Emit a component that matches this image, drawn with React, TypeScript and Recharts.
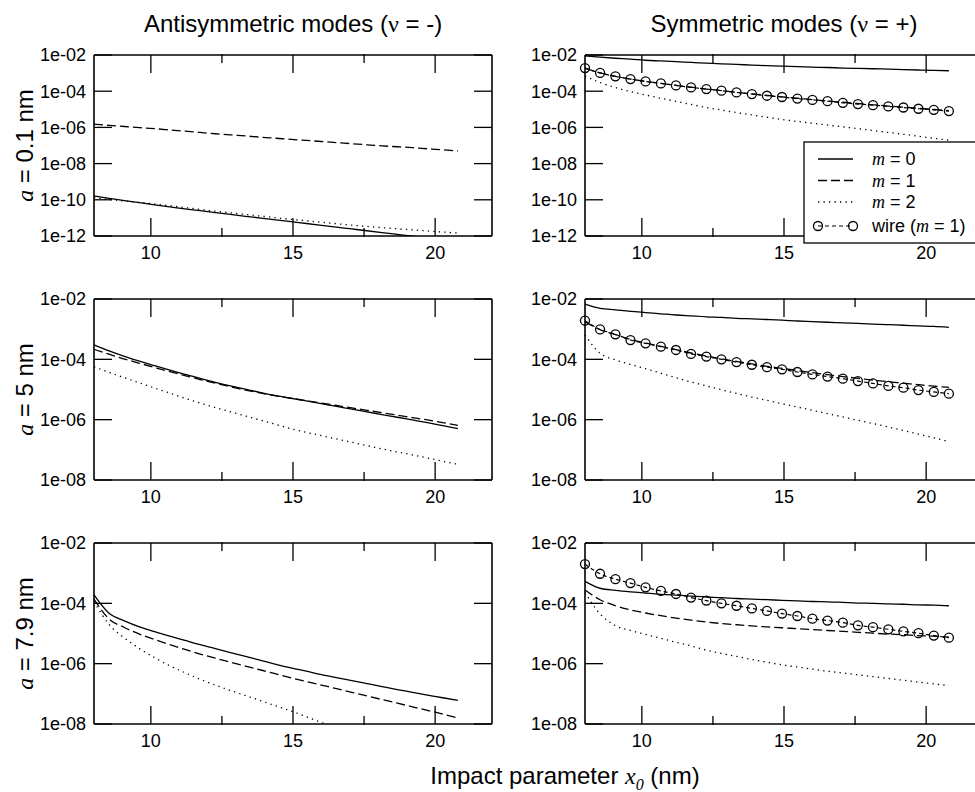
import React from "react";
import { LineChart, Line, XAxis, YAxis } from "recharts";

// impact parameter x0 (nm)
const xs = [8.0, 8.53, 9.07, 9.6, 10.13, 10.67, 11.2, 11.73, 12.27, 12.8, 13.33, 13.87, 14.4, 14.93, 15.47, 16.0, 16.53, 17.07, 17.6, 18.13, 18.67, 19.2, 19.73, 20.27, 20.8];
const xMajor = [10, 15, 20];
const xMinor = [12.5, 17.5];
const yTicksWide = [-12, -10, -8, -6, -4, -2];
const yTicksNarrow = [-8, -6, -4, -2];

// all series are log10 of the plotted value

// a = 0.1 nm, antisymmetric
const anti01M0 = [-9.79, -9.92, -10.04, -10.16, -10.28, -10.39, -10.5, -10.6, -10.71, -10.81, -10.91, -11.01, -11.11, -11.21, -11.31, -11.41, -11.51, -11.61, -11.71, -11.81, -11.91, -12.01, -12.1, -12.2, -12.3];
const anti01M1 = [-5.82, -5.89, -5.95, -6.01, -6.07, -6.14, -6.21, -6.28, -6.35, -6.41, -6.47, -6.54, -6.6, -6.66, -6.72, -6.78, -6.84, -6.9, -6.96, -7.02, -7.07, -7.12, -7.18, -7.24, -7.3];
const anti01M2 = [-9.88, -9.98, -10.07, -10.15, -10.23, -10.33, -10.43, -10.53, -10.63, -10.72, -10.81, -10.9, -10.99, -11.08, -11.16, -11.24, -11.32, -11.4, -11.47, -11.54, -11.6, -11.66, -11.72, -11.78, -11.84];

// a = 0.1 nm, symmetric
const sym01M0 = [-2.05, -2.12, -2.18, -2.23, -2.29, -2.33, -2.37, -2.41, -2.45, -2.49, -2.52, -2.56, -2.59, -2.62, -2.64, -2.67, -2.69, -2.72, -2.74, -2.76, -2.78, -2.81, -2.83, -2.85, -2.87];
const sym01M1 = [-2.72, -2.99, -3.18, -3.33, -3.46, -3.57, -3.68, -3.78, -3.88, -3.97, -4.06, -4.15, -4.23, -4.31, -4.39, -4.46, -4.54, -4.61, -4.68, -4.75, -4.82, -4.88, -4.95, -5.01, -5.07];
const sym01M2 = [-3.16, -3.52, -3.8, -4.02, -4.21, -4.39, -4.56, -4.73, -4.9, -5.04, -5.18, -5.31, -5.44, -5.56, -5.67, -5.77, -5.87, -5.97, -6.07, -6.17, -6.28, -6.38, -6.49, -6.6, -6.71];
const sym01Wire = [-2.72, -2.99, -3.18, -3.33, -3.46, -3.57, -3.68, -3.79, -3.88, -3.97, -4.07, -4.16, -4.25, -4.32, -4.41, -4.48, -4.55, -4.64, -4.71, -4.77, -4.84, -4.9, -4.97, -5.03, -5.1];

// a = 5 nm, antisymmetric
const anti5M0 = [-3.52, -3.72, -3.9, -4.06, -4.21, -4.36, -4.5, -4.63, -4.76, -4.88, -4.99, -5.1, -5.2, -5.29, -5.38, -5.47, -5.56, -5.65, -5.74, -5.83, -5.92, -6.01, -6.1, -6.2, -6.3];
const anti5M1 = [-3.67, -3.83, -3.99, -4.13, -4.27, -4.41, -4.54, -4.67, -4.79, -4.91, -5.02, -5.12, -5.21, -5.29, -5.37, -5.45, -5.53, -5.61, -5.69, -5.77, -5.85, -5.93, -6.01, -6.1, -6.19];
const anti5M2 = [-4.25, -4.43, -4.61, -4.78, -4.95, -5.12, -5.29, -5.45, -5.6, -5.74, -5.88, -6.02, -6.16, -6.3, -6.42, -6.53, -6.64, -6.75, -6.86, -6.97, -7.07, -7.17, -7.27, -7.38, -7.48];

// a = 5 nm, symmetric
const sym5M0 = [-2.17, -2.31, -2.36, -2.41, -2.45, -2.49, -2.53, -2.56, -2.59, -2.61, -2.64, -2.66, -2.68, -2.7, -2.73, -2.75, -2.77, -2.79, -2.81, -2.83, -2.85, -2.87, -2.89, -2.91, -2.94];
const sym5M1 = [-2.75, -3.02, -3.18, -3.34, -3.46, -3.57, -3.68, -3.79, -3.89, -3.98, -4.07, -4.15, -4.23, -4.3, -4.37, -4.44, -4.51, -4.57, -4.63, -4.69, -4.74, -4.79, -4.84, -4.89, -4.93];
const sym5M2 = [-3.19, -3.8, -4.02, -4.17, -4.31, -4.46, -4.61, -4.75, -4.88, -5.01, -5.13, -5.25, -5.36, -5.47, -5.58, -5.69, -5.8, -5.91, -6.02, -6.13, -6.24, -6.36, -6.48, -6.6, -6.73];
const sym5Wire = [-2.72, -3.01, -3.17, -3.36, -3.47, -3.58, -3.69, -3.82, -3.91, -4.0, -4.09, -4.18, -4.26, -4.33, -4.42, -4.5, -4.57, -4.64, -4.72, -4.8, -4.88, -4.94, -5.02, -5.08, -5.14];

// a = 7.9 nm, antisymmetric
const anti79M0 = [-3.72, -4.33, -4.58, -4.78, -4.94, -5.09, -5.23, -5.37, -5.5, -5.63, -5.76, -5.89, -6.02, -6.14, -6.25, -6.36, -6.46, -6.56, -6.66, -6.76, -6.86, -6.95, -7.04, -7.13, -7.22];
const anti79M1 = [-3.86, -4.52, -4.8, -5.02, -5.2, -5.37, -5.53, -5.68, -5.82, -5.95, -6.08, -6.21, -6.34, -6.47, -6.59, -6.71, -6.83, -6.95, -7.07, -7.19, -7.31, -7.43, -7.55, -7.67, -7.8];
const anti79M2 = [-3.94, -4.7, -5.15, -5.5, -5.8, -6.07, -6.3, -6.52, -6.71, -6.89, -7.06, -7.23, -7.4, -7.57, -7.76, -7.95, -8.12, -8.28, -8.44, -8.59, -8.74, -8.88, -9.02, -9.16, -9.3];

// a = 7.9 nm, symmetric
const sym79M0 = [-3.27, -3.5, -3.57, -3.62, -3.66, -3.7, -3.73, -3.76, -3.79, -3.81, -3.84, -3.86, -3.88, -3.9, -3.92, -3.94, -3.95, -3.97, -3.99, -4.0, -4.02, -4.03, -4.05, -4.06, -4.08];
const sym79M1 = [-3.56, -3.88, -4.08, -4.22, -4.32, -4.41, -4.49, -4.56, -4.62, -4.67, -4.71, -4.75, -4.78, -4.81, -4.84, -4.87, -4.9, -4.93, -4.96, -4.99, -5.02, -5.04, -5.07, -5.09, -5.12];
const sym79M2 = [-3.64, -4.35, -4.74, -4.9, -5.03, -5.16, -5.29, -5.41, -5.55, -5.66, -5.76, -5.86, -5.95, -6.04, -6.11, -6.18, -6.25, -6.31, -6.37, -6.43, -6.49, -6.55, -6.61, -6.67, -6.73];
const sym79Wire = [-2.7, -3.02, -3.2, -3.33, -3.47, -3.59, -3.69, -3.81, -3.91, -4.0, -4.08, -4.17, -4.25, -4.34, -4.42, -4.51, -4.57, -4.64, -4.73, -4.79, -4.86, -4.93, -4.99, -5.07, -5.14];

const SANS = "'Liberation Sans', Arial, Helvetica, sans-serif";
const SERIF = "'Liberation Serif', 'Times New Roman', serif";

const PLOT_W = 398;
const PLOT_H = 181;
const AXIS_W = 90;
// plot area sits this far below the chart's top edge (margin + two 1px top axes)
const TOP_PAD = 10;
const BOTTOM_PAD = 30;

const axisLine = { stroke: "#000", strokeWidth: 1.6 };
const tickLine = { stroke: "#000", strokeWidth: 1.3 };
const tickFont = { fontSize: 18, fontFamily: SANS, fill: "#000" };
const noLabel = () => "";

function fmtPow(v: number) {
  return `1e-${String(-v).padStart(2, "0")}`;
}

interface PanelProps {
  left: number;
  top: number;
  yMin: number;
  yTicks: number[];
  m0: number[];
  m1: number[];
  m2: number[];
  wire?: number[];
}

function Panel({ left, top, yMin, yTicks, m0, m1, m2, wire }: PanelProps) {
  const data = xs.map((x, i) => ({ x, m0: m0[i], m1: m1[i], m2: m2[i], wire: wire ? wire[i] : undefined }));
  const clip = !wire;
  const xDomain: [number, number] = [8, 22];
  const yDomain: [number, number] = [yMin, -2];
  return (
    <div style={{ position: "absolute", left: left - AXIS_W, top: top - TOP_PAD }}>
      <LineChart
        width={AXIS_W + PLOT_W + 1}
        height={TOP_PAD + PLOT_H + BOTTOM_PAD}
        data={data}
        margin={{ top: TOP_PAD - 2, right: 0, bottom: BOTTOM_PAD - 2, left: 0 }}
      >
        {/* bottom: labelled major ticks and short minor ticks, all pointing inwards */}
        <XAxis dataKey="x" type="number" domain={xDomain} ticks={xMajor} interval={0} height={1}
          tickSize={-18} tickMargin={28} axisLine={axisLine} tickLine={tickLine} tick={tickFont} />
        <XAxis xAxisId="bm" dataKey="x" type="number" domain={xDomain} ticks={xMinor} interval={0} height={1}
          tickSize={-9} tickFormatter={noLabel} axisLine={false} tickLine={tickLine} />
        {/* top mirror */}
        <XAxis xAxisId="t" orientation="top" dataKey="x" type="number" domain={xDomain} ticks={xMajor} interval={0} height={1}
          tickSize={-18} tickFormatter={noLabel} axisLine={axisLine} tickLine={tickLine} />
        <XAxis xAxisId="tm" orientation="top" dataKey="x" type="number" domain={xDomain} ticks={xMinor} interval={0} height={1}
          tickSize={-9} tickFormatter={noLabel} axisLine={false} tickLine={tickLine} />
        <YAxis type="number" domain={yDomain} ticks={yTicks} interval={0} allowDataOverflow={clip} width={AXIS_W}
          tickSize={-18} tickMargin={26} tickFormatter={fmtPow} axisLine={axisLine} tickLine={tickLine} tick={tickFont} />
        <YAxis yAxisId="r" orientation="right" type="number" domain={yDomain} ticks={yTicks} interval={0} allowDataOverflow={clip} width={1}
          tickSize={-18} tickFormatter={noLabel} axisLine={axisLine} tickLine={tickLine} />
        <Line type="monotone" dataKey="m0" stroke="#000" strokeWidth={1.3} dot={false} isAnimationActive={false} />
        <Line type="monotone" dataKey="m1" stroke="#000" strokeWidth={1.3} strokeDasharray="9 4" dot={false} isAnimationActive={false} />
        <Line type="monotone" dataKey="m2" stroke="#000" strokeWidth={1.3} strokeDasharray="1.3 4.2" dot={false} isAnimationActive={false} />
        {wire && (
          <Line
            type="monotone"
            dataKey="wire"
            stroke="#000"
            strokeWidth={1.2}
            strokeDasharray="4 3"
            dot={{ r: 4.5, fill: "none", stroke: "#000", strokeWidth: 1.3, strokeDasharray: "" }}
            isAnimationActive={false}
          />
        )}
      </LineChart>
    </div>
  );
}

function RowLabel({ cy, text }: { cy: number; text: string }) {
  return (
    <text transform={`translate(33, ${cy}) rotate(-90)`} textAnchor="middle" fontSize={24} fontFamily={SANS} fill="#000">
      <tspan fontFamily={SERIF} fontStyle="italic">a</tspan>
      {` = ${text}`}
    </text>
  );
}

function LegendBox() {
  const rows = [
    { label: "0", dash: "" },
    { label: "1", dash: "9 4" },
    { label: "2", dash: "1.3 4.2" },
  ];
  return (
    <svg width={975} height={792} style={{ position: "absolute", left: 0, top: 0, pointerEvents: "none" }}>
      <rect x={804} y={142} width={200} height={101} fill="#fff" stroke="#000" strokeWidth={1.3} />
      {rows.map((r, i) => (
        <g key={r.label}>
          <line x1={818} x2={853} y1={159 + i * 21.5} y2={159 + i * 21.5} stroke="#000" strokeWidth={1.3} strokeDasharray={r.dash || undefined} />
          <text x={872} y={165 + i * 21.5} fontSize={18} fontFamily={SANS} fill="#000">
            <tspan fontFamily={SERIF} fontStyle="italic">m</tspan>
            {` = ${r.label}`}
          </text>
        </g>
      ))}
      <line x1={818} x2={853} y1={226} y2={226} stroke="#000" strokeWidth={1.2} strokeDasharray="4 3" />
      <circle cx={818} cy={226} r={4.5} fill="none" stroke="#000" strokeWidth={1.3} />
      <circle cx={853} cy={226} r={4.5} fill="none" stroke="#000" strokeWidth={1.3} />
      <text x={872} y={232} fontSize={18} fontFamily={SANS} fill="#000">
        {"wire ("}
        <tspan fontFamily={SERIF} fontStyle="italic">m</tspan>
        {" = 1)"}
      </text>
    </svg>
  );
}

export default function App() {
  return (
    <div style={{ position: "absolute", left: 0, top: 0, width: 975, height: 792, overflow: "hidden", background: "#fff" }}>
      <svg width={975} height={792} style={{ position: "absolute", left: 0, top: 0 }}>
        <text x={293} y={32} textAnchor="middle" fontSize={24} fontFamily={SANS} fill="#000">
          {"Antisymmetric modes ("}
          <tspan fontFamily={SERIF}>ν</tspan>
          {" = -)"}
        </text>
        <text x={784} y={32} textAnchor="middle" fontSize={24} fontFamily={SANS} fill="#000">
          {"Symmetric modes ("}
          <tspan fontFamily={SERIF}>ν</tspan>
          {" = +)"}
        </text>
        <RowLabel cy={145.5} text="0.1 nm" />
        <RowLabel cy={389.5} text="5 nm" />
        <RowLabel cy={633.5} text="7.9 nm" />
        <text x={565} y={784} textAnchor="middle" fontSize={24} fontFamily={SANS} fill="#000">
          {"Impact parameter "}
          <tspan fontFamily={SERIF} fontStyle="italic">x</tspan>
          <tspan fontFamily={SERIF} fontStyle="italic" fontSize={16} dy={6}>0</tspan>
          <tspan dy={-6}>{" (nm)"}</tspan>
        </text>
      </svg>

      <Panel left={94} top={55} yMin={-12} yTicks={yTicksWide} m0={anti01M0} m1={anti01M1} m2={anti01M2} />
      <Panel left={585} top={55} yMin={-12} yTicks={yTicksWide} m0={sym01M0} m1={sym01M1} m2={sym01M2} wire={sym01Wire} />
      <Panel left={94} top={299} yMin={-8} yTicks={yTicksNarrow} m0={anti5M0} m1={anti5M1} m2={anti5M2} />
      <Panel left={585} top={299} yMin={-8} yTicks={yTicksNarrow} m0={sym5M0} m1={sym5M1} m2={sym5M2} wire={sym5Wire} />
      <Panel left={94} top={543} yMin={-8} yTicks={yTicksNarrow} m0={anti79M0} m1={anti79M1} m2={anti79M2} />
      <Panel left={585} top={543} yMin={-8} yTicks={yTicksNarrow} m0={sym79M0} m1={sym79M1} m2={sym79M2} wire={sym79Wire} />

      <LegendBox />
    </div>
  );
}
